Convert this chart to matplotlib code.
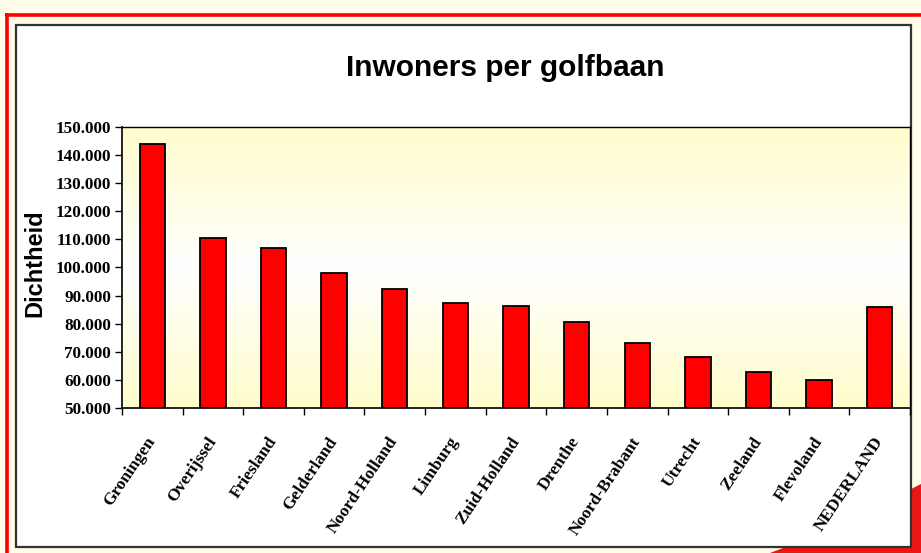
import matplotlib
matplotlib.use("Agg")
import matplotlib.pyplot as plt
import numpy as np
from matplotlib.patches import Rectangle, Polygon
from matplotlib.colors import LinearSegmentedColormap

# ---- data ----
categories = ["Groningen", "Overijssel", "Friesland", "Gelderland", "Noord-Holland",
              "Limburg", "Zuid-Holland", "Drenthe", "Noord-Brabant", "Utrecht",
              "Zeeland", "Flevoland", "NEDERLAND"]
values = [143800, 110600, 106900, 98000, 92300, 87400, 86300, 80600,
          73000, 68000, 62900, 60000, 86100]
yticks = [50000, 60000, 70000, 80000, 90000, 100000, 110000, 120000, 130000, 140000, 150000]
ytick_labels = ["50.000", "60.000", "70.000", "80.000", "90.000", "100.000",
                "110.000", "120.000", "130.000", "140.000", "150.000"]
title = "Inwoners per golfbaan"
ylabel = "Dichtheid"

W, H = 921, 553
fig = plt.figure(figsize=(W / 100, H / 100), dpi=100)
fig.patch.set_facecolor("#FFFCEA")

def fx(x):
    return x / W

def fy(y):
    return 1 - y / H

# red swoosh bottom right
fig.patches.append(Polygon([(fx(770), fy(553)), (fx(921), fy(553)), (fx(921), fy(484)),
                            (fx(880), fy(505)), (fx(830), fy(530))],
                           closed=True, transform=fig.transFigure, facecolor="#EE1515",
                           edgecolor="none", zorder=-3))
# red frame lines
fig.add_artist(plt.Line2D([fx(5), fx(921)], [fy(14.5), fy(14.5)], transform=fig.transFigure,
                          color="#FF0000", lw=2.6, solid_capstyle="butt", zorder=-2))
fig.add_artist(plt.Line2D([fx(6.5), fx(6.5)], [fy(13), fy(553)], transform=fig.transFigure,
                          color="#FF0000", lw=2.6, solid_capstyle="butt", zorder=-2))
# chart area
fig.patches.append(Rectangle((fx(16), fy(547)), fx(911 - 16), (547 - 25) / H,
                             transform=fig.transFigure, facecolor="white",
                             edgecolor="#333333", lw=1.6, zorder=-1))

ax = fig.add_axes([fx(122), fy(408), fx(910 - 122), (408 - 127) / H])
ax.set_facecolor("none")

# gradient background
cmap = LinearSegmentedColormap.from_list("g", [(0.0, "#FFFDCB"), (0.5, "#FFFFFF"), (1.0, "#FFFDCB")])
grad = np.linspace(0, 1, 256).reshape(-1, 1)
ax.imshow(grad, cmap=cmap, aspect="auto", extent=[0, 1, 0, 1], transform=ax.transAxes,
          zorder=0, interpolation="bilinear")

x = np.arange(len(categories))
ax.bar(x, values, width=0.42, color="#FF0000", edgecolor="black", linewidth=1.3,
       zorder=2, bottom=0)
ax.set_xlim(-0.5, len(categories) - 0.5)
ax.set_ylim(50000, 150000)

ax.set_yticks(yticks)
ax.set_yticklabels(ytick_labels, fontfamily="Liberation Serif", fontweight="bold", fontsize=12.3)
ax.set_xticks(x)
ax.set_xticklabels(categories, fontfamily="Liberation Serif", fontweight="bold", fontsize=12.5,
                   rotation=56, ha="right", va="center", rotation_mode="anchor")
ax.tick_params(axis="x", length=0, pad=22)
ax.set_xticks(np.arange(len(categories) + 1) - 0.5, minor=True)
ax.tick_params(axis="x", which="minor", length=5, width=1, color="black", direction="out")
ax.tick_params(axis="y", length=5, width=1, direction="out", pad=3)

for s in ["top", "right"]:
    ax.spines[s].set_visible(False)
ax.spines["left"].set_linewidth(1.2)
ax.spines["bottom"].set_linewidth(1.2)
ax.plot([0, 1], [1, 1], transform=ax.transAxes, color="black", lw=1.0, zorder=5, clip_on=False)
ax.plot([1, 1], [0, 1], transform=ax.transAxes, color="black", lw=1.0, zorder=5, clip_on=False)

fig.text(fx(505), fy(68), title, ha="center", va="center", fontsize=21.5,
         fontfamily="Liberation Sans", fontweight="bold")
fig.text(fx(35), fy(263), ylabel, ha="center", va="center", rotation=90, fontsize=17,
         fontfamily="Liberation Sans", fontweight="bold")

fig.savefig("out.png", dpi=100, facecolor=fig.get_facecolor())
